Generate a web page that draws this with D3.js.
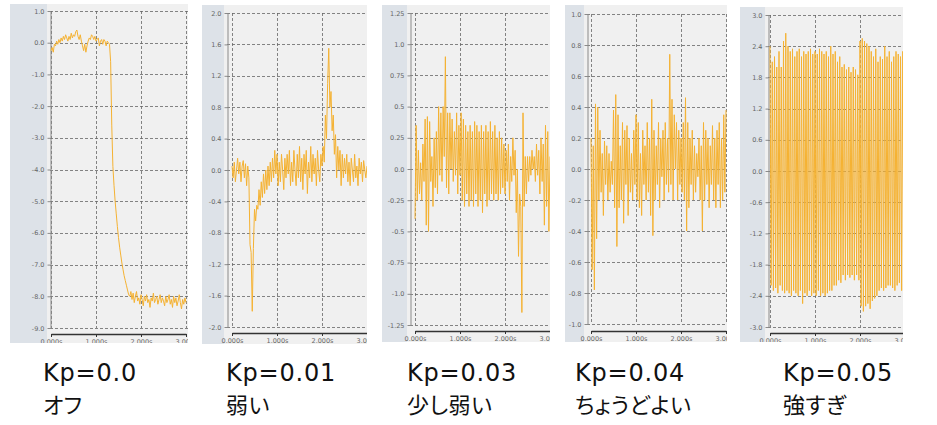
<!DOCTYPE html>
<html>
<head>
<meta charset="utf-8">
<script src="https://cdn.jsdelivr.net/npm/d3@7"></script>
<style>
  body { margin: 0; background: #fff; }
  svg { display: block; }
</style>
</head>
<body>
<div id="chart"></div>
<script>
const lineColor = "#f5b232";
const gridColor = "#666";

const dt = 0.025;
const xTicks = [0, 1, 2, 3];
const xTickLabels = ["0.000s", "1.000s", "2.000s", "3.000s"];

const kpLabels = ["Kp=0.0", "Kp=0.01", "Kp=0.03", "Kp=0.04", "Kp=0.05"];
const kpNotes = ["オフ", "弱い", "少し弱い", "ちょうどよい", "強すぎ"];

const yTicks00 = [1, 0, -1, -2, -3, -4, -5, -6, -7, -8, -9];
const yTicks01 = [2, 1.6, 1.2, 0.8, 0.4, 0, -0.4, -0.8, -1.2, -1.6, -2];
const yTicks03 = [1.25, 1, 0.75, 0.5, 0.25, 0, -0.25, -0.5, -0.75, -1, -1.25];
const yTicks04 = [1, 0.8, 0.6, 0.4, 0.2, 0, -0.2, -0.4, -0.6, -0.8, -1];
const yTicks05 = [3, 2.4, 1.8, 1.2, 0.6, 0, -0.6, -1.2, -1.8, -2.4, -3];

// one sample every dt seconds, 0 .. 3.0 s
const resp00 = [
  -0.25, -0.15, -0.3, -0.05, -0.1, 0.05, -0.05, 0.1, 0.0, 0.15, 0.05,
  0.2, 0.1, 0.25, 0.15, 0.05, 0.2, 0.1, 0.3, 0.15, 0.25,
  0.2, 0.35, 0.4, 0.2, 0.1, 0.25, 0.05, -0.1, -0.25, -0.05,
  -0.3, -0.1, 0.05, 0.15, 0.1, 0.25, 0.2, 0.1, 0.2, 0.05,
  0.1, 0.15, -0.1, 0.05, 0.1, -0.05, 0.1, 0.05, -0.1, 0.05, 0.0, -0.05,
  -0.6, -2.6, -3.9, -4.5, -5.0, -5.4, -5.8, -6.15, -6.45, -6.7,
  -6.95, -7.15, -7.35, -7.5, -7.65, -7.8, -7.95, -8.0,
  -7.85, -8.1, -7.9, -8.2, -8.0, -7.85, -8.15, -8.05, -8.25, -7.95,
  -8.1, -8.3, -8.0, -8.15, -7.95, -8.2, -8.1, -8.35, -8.05, -8.15,
  -7.9, -8.2, -8.1, -8.0, -8.25, -8.1, -7.95, -8.2, -8.05, -8.15,
  -8.3, -8.0, -8.2, -8.1, -7.95, -8.25, -8.1, -8.35, -8.0, -8.2,
  -8.05, -8.3, -8.15, -7.95, -8.2, -8.4, -8.1, -8.25, -8.05, -8.2
];

const resp01 = [
  0.05, -0.1, 0.1, -0.15, 0.0, 0.15, -0.05, 0.1, -0.15, 0.05, 0.12, -0.1, 0.08, -0.2, 0.05, -0.1,
  -0.95, -1.05, -1.8, -1.0, -0.5, -0.65, -0.45, -0.5, -0.25, -0.45, -0.15, -0.35, -0.05, -0.3,
  0.0, -0.25, 0.05, -0.2, 0.1, -0.15, 0.15,
  -0.1, 0.25, -0.05, 0.2, -0.2, 0.1, -0.15, 0.2, 0.0, -0.25,
  0.15, -0.1, 0.2, -0.05, 0.25, -0.2, 0.1, -0.15, 0.25, 0.0,
  -0.2, 0.2, -0.1, 0.3, -0.15, 0.15, -0.25, 0.2, -0.05, 0.25,
  -0.3, 0.1, -0.1, 0.3, -0.15, 0.2, -0.05, 0.15, -0.2, 0.25,
  0.0, -0.15, 0.2, 0.05,
  0.3, 0.1, 0.7, 0.4, 1.1, 1.55, 0.8, 1.0, 0.5, 0.7, 0.2, 0.45, -0.1, 0.3, 0.0, 0.25,
  -0.2, 0.2, -0.1, 0.15, -0.05, 0.2, -0.15, 0.1, -0.2, 0.15, 0.0, -0.15,
  0.2, -0.1, 0.05, -0.2, 0.15, -0.05, 0.1, -0.15, 0.12, 0.0, -0.1, 0.05
];

const resp03 = [
  -0.4, 0.35, -0.25, 0.15, -0.2, 0.05, -0.25, 0.2, -0.1, 0.4,
  -0.45, 0.42, -0.5, 0.38, -0.1, 0.1, -0.3, 0.25, -0.15, 0.3,
  -0.2, 0.5, -0.05, 0.45, -0.1, 0.5, 0.1, 0.9, -0.15, 0.45,
  -0.2, 0.45, 0.0, 0.4, -0.1, 0.3, -0.05, 0.45, -0.2, 0.35, -0.05,
  0.45, -0.25, 0.4, -0.3, 0.35, -0.2, 0.3, -0.3, 0.35, -0.25,
  0.3, -0.3, 0.38, -0.2, 0.35, -0.3, 0.3, -0.25, 0.35, -0.35,
  0.3, -0.2, 0.35, -0.3, 0.3, -0.25, 0.38, -0.2, 0.3, -0.25,
  0.35, -0.2, 0.25, -0.25, 0.3, -0.2, 0.25, -0.15, 0.2, -0.2,
  0.15, -0.1, 0.2, -0.25, 0.1, -0.1, 0.25, -0.05, 0.15, -0.35,
  0.0, -0.7, -0.2, -0.3, -1.15, 0.45, -0.3, 0.1, -0.2,
  0.1, -0.1, 0.1, -0.05, 0.15, 0.0, 0.1, -0.1, 0.2, -0.05,
  0.15, -0.2, 0.25, -0.1, 0.2, -0.45, 0.35, -0.3, 0.3, -0.5, 0.1
];

const resp04 = [
  0.2, -0.65, 0.15, -0.78, 0.42, -0.45, 0.4, -0.2, 0.25, -0.15,
  0.1, -0.3, 0.18, -0.1, 0.15, -0.2, 0.1, -0.15, 0.05, -0.1,
  0.38, -0.25, 0.48, -0.5, 0.35, -0.25, 0.15, -0.2, 0.3, -0.35,
  0.25, -0.1, 0.28, -0.3, 0.2, -0.15, 0.1, -0.2, 0.25, -0.1,
  0.35, -0.2, 0.3, -0.25, 0.1, -0.3, 0.25, -0.1, 0.15, -0.2,
  0.3, -0.15, 0.2, -0.3, 0.45, -0.43, 0.25, -0.2, 0.15, -0.1,
  0.3, -0.25, 0.2, -0.05, 0.25, -0.2, 0.3, -0.1, 0.2, -0.15,
  0.74, -0.1, 0.45, -0.2, 0.35, 0.0, 0.3, -0.2, 0.25, -0.1,
  0.2, -0.15, 0.3, -0.2, 0.46, -0.4, 0.3, -0.25, 0.2, -0.1,
  0.25, -0.2, 0.15, -0.15, 0.1, -0.05, 0.2, -0.2, 0.15, -0.4,
  0.3, -0.2, 0.25, -0.1, 0.2, -0.25, 0.15, -0.1, 0.28, -0.2,
  0.2, -0.25, 0.25, -0.1, 0.3, -0.25, 0.2, -0.2, 0.35, -0.15, 0.38
];

const resp05 = [
  2.4, -2.2, 2.1, -2.3, 2.2, -2.25, 2.0, -2.35, 2.3, -2.2,
  2.0, -2.3, 2.5, -2.35, 2.65, -2.3, 2.4, -2.35, 2.3, -2.4,
  2.35, -2.3, 2.2, -2.35, 2.3, -2.4, 2.35, -2.3, 2.2, -2.55,
  2.3, -2.35, 2.25, -2.4, 2.3, -2.3, 2.35, -2.4, 2.25, -2.35,
  2.3, -2.4, 2.25, -2.3, 2.35, -2.4, 2.3, -2.35, 2.25, -2.4,
  2.3, -2.35, 2.2, -2.3, 2.4, -2.3, 2.25, -2.2, 2.3, -2.2,
  2.1, -2.1, 2.2, -2.15, 2.0, -2.0, 2.05, -2.1, 1.95, -2.0,
  2.0, -2.05, 1.9, -2.0, 2.0, -2.1, 1.95, -2.0, 1.85, -2.1,
  2.5, -2.6, 2.55, -2.7, 2.5, -2.6, 2.45, -2.55, 2.4, -2.65,
  2.3, -2.5, 2.2, -2.45, 2.35, -2.4, 2.1, -2.3, 2.2, -2.25,
  2.15, -2.3, 2.4, -2.25, 2.2, -2.2, 2.3, -2.2, 2.1, -2.25,
  2.2, -2.3, 2.3, -2.2, 2.25, -2.15, 2.2, -2.3, 2.3, -2.2, 2.2
];

const series = [resp00, resp01, resp03, resp04, resp05];
const yTicks = [yTicks00, yTicks01, yTicks03, yTicks04, yTicks05];

// screen frames of the five scope captures
const panels = [
  { left: 10, right: 188, top: 4, bottom: 343, axisX: 50, x0: 51, yTop: 11, yBot: 328, xAxisY: 334, labelX: 43 },
  { left: 202, right: 367, top: 5, bottom: 344, axisX: 227, x0: 232, yTop: 13, yBot: 327, xAxisY: 333, labelX: 226 },
  { left: 382, right: 550, top: 5, bottom: 342, axisX: 410, x0: 415, yTop: 13, yBot: 325, xAxisY: 331, labelX: 407 },
  { left: 565, right: 727, top: 5, bottom: 342, axisX: 587, x0: 591, yTop: 14, yBot: 324, xAxisY: 331, labelX: 575 },
  { left: 740, right: 903, top: 7, bottom: 342, axisX: 768, x0: 770, yTop: 15, yBot: 327, xAxisY: 333, labelX: 783 },
];

const fmtY = (v) => (Number.isInteger(Math.round(v * 100) / 10) ? v.toFixed(1) : v.toFixed(2));

const svg = d3
  .select("#chart")
  .append("svg")
  .attr("width", 937)
  .attr("height", 425)
  .attr("viewBox", [0, 0, 937, 425]);

svg.append("rect").attr("width", 937).attr("height", 425).attr("fill", "#fff");

const defs = svg.append("defs");

panels.forEach((p, i) => {
  defs
    .append("clipPath")
    .attr("id", `frame${i}`)
    .append("rect")
    .attr("x", p.left)
    .attr("y", p.top)
    .attr("width", p.right - p.left)
    .attr("height", p.bottom - p.top);

  const g = svg.append("g").attr("clip-path", `url(#frame${i})`);

  g.append("rect")
    .attr("x", p.left)
    .attr("y", p.top)
    .attr("width", p.right - p.left)
    .attr("height", p.bottom - p.top)
    .attr("fill", "#f0f0f0");

  g.append("rect")
    .attr("x", p.left)
    .attr("y", p.top)
    .attr("width", p.axisX - 3 - p.left)
    .attr("height", p.bottom - p.top)
    .attr("fill", "#dde2e8");

  const ticks = yTicks[i];
  const x = d3.scaleLinear().domain([0, 3]).range([p.x0, p.x0 + 135]);
  const y = d3
    .scaleLinear()
    .domain([d3.min(ticks), d3.max(ticks)])
    .range([p.yBot, p.yTop]);

  // dashed grid
  g.append("g")
    .attr("stroke", gridColor)
    .attr("stroke-width", 0.8)
    .attr("stroke-dasharray", "3,2")
    .call((gg) =>
      gg
        .selectAll(".hg")
        .data(ticks)
        .join("line")
        .attr("x1", p.axisX)
        .attr("x2", p.right)
        .attr("y1", (d) => Math.round(y(d)) + 0.5)
        .attr("y2", (d) => Math.round(y(d)) + 0.5)
    )
    .call((gg) =>
      gg
        .selectAll(".vg")
        .data(xTicks)
        .join("line")
        .attr("x1", (d) => Math.round(x(d)) + 0.5)
        .attr("x2", (d) => Math.round(x(d)) + 0.5)
        .attr("y1", p.yTop)
        .attr("y2", p.yBot)
    );

  const yAxis = g
    .append("g")
    .attr("transform", `translate(${p.axisX + 0.5},0)`)
    .call(d3.axisLeft(y).tickValues(ticks).tickFormat(fmtY).tickSize(3).tickSizeOuter(0));
  yAxis.select(".domain").attr("stroke", "#8a8a8a");
  yAxis.selectAll(".tick line").attr("stroke", "#8a8a8a");
  yAxis
    .selectAll(".tick text")
    .attr("fill", "#666")
    .attr("font-family", "DejaVu Sans")
    .attr("font-size", 6.5);

  const xAxis = g
    .append("g")
    .attr("transform", `translate(0,${p.xAxisY})`)
    .call(
      d3
        .axisBottom(x)
        .tickValues(xTicks)
        .tickFormat((d, j) => xTickLabels[j])
        .tickSize(3)
        .tickSizeOuter(0)
    );
  xAxis.select(".domain").attr("stroke", "#333").attr("stroke-width", 1.4);
  xAxis.selectAll(".tick line").attr("stroke", "#333");
  xAxis
    .selectAll(".tick text")
    .attr("fill", "#666")
    .attr("font-family", "DejaVu Sans")
    .attr("font-size", 6.5)
    .attr("dy", "0.55em");

  const line = d3
    .line()
    .x((d, j) => x(j * dt))
    .y((d) => y(d));

  g.append("path")
    .datum(series[i])
    .attr("fill", "none")
    .attr("stroke", lineColor)
    .attr("stroke-width", 1)
    .attr("stroke-linejoin", "round")
    .attr("d", line);

  svg
    .append("text")
    .attr("x", p.labelX)
    .attr("y", 381)
    .attr("font-family", "DejaVu Sans")
    .attr("font-size", 24)
    .attr("letter-spacing", 0.8)
    .attr("fill", "#111")
    .text(kpLabels[i]);

  svg
    .append("text")
    .attr("x", p.labelX)
    .attr("y", 412.5)
    .attr("font-family", "Noto Sans CJK JP")
    .attr("font-size", 22)
    .attr("letter-spacing", 0.5)
    .style("font-feature-settings", '"palt"')
    .attr("fill", "#111")
    .text(kpNotes[i]);
});
</script>
</body>
</html>
